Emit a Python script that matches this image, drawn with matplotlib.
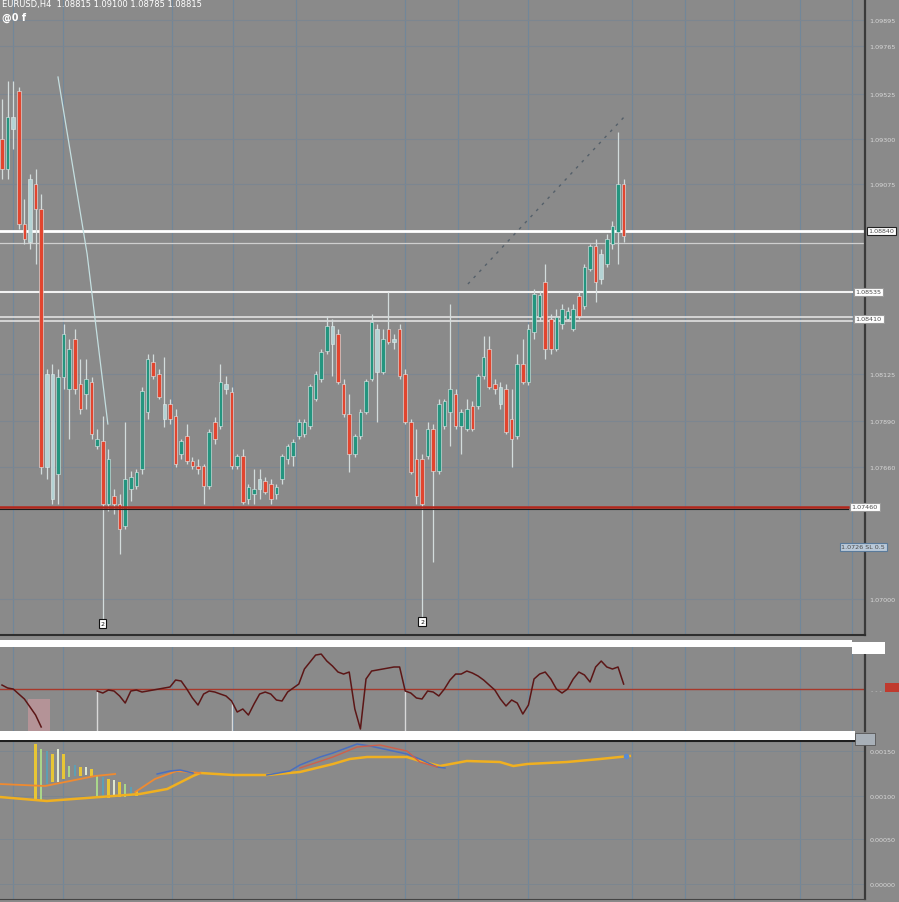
import numpy as np
import matplotlib.pyplot as plt
from matplotlib.patches import Rectangle
import matplotlib.transforms as mtransforms

nan = np.nan

# ---- price candles (H4) ----
opens = [1.0930, 1.0915, 1.0941, 1.0954, 1.08875, 1.08785, 1.09075, 1.0895, 1.0766, 1.08125,
         1.07625, 1.0811, 1.0805, 1.0830, 1.08075, 1.08025, 1.08085, 1.07765, 1.0779, 1.07475,
         1.07515, 1.07475, 1.07365, 1.0755, 1.07565, 1.0765, 1.07935, 1.08185, 1.08125, 1.0790,
         1.07975, 1.07915, 1.07725, 1.07815, 1.0769, 1.07665, 1.07665, 1.07565, 1.07885, 1.07865,
         1.08075, 1.08035, 1.07665, 1.07715, 1.0750, 1.07525, 1.0755, 1.0759, 1.07575, 1.07525,
         1.0760, 1.0770, 1.07715, 1.07815, 1.07825, 1.07865, 1.0800, 1.0810, 1.0824, 1.08365,
         1.08325, 1.08075, 1.07925, 1.07725, 1.07815, 1.07935, 1.0810, 1.0835, 1.08135, 1.0835,
         1.08285, 1.0835, 1.08125, 1.07885, 1.0770, 1.0770, 1.07715, 1.0785, 1.0764, 1.07865,
         1.07935, 1.08025, 1.07865, 1.0785, 1.07965, 1.07965, 1.08115, 1.0825, 1.08075, 1.07975,
         1.0805, 1.0790, 1.07815, 1.08175, 1.08085, 1.08335, 1.0841, 1.08585, 1.0840, 1.0825,
         1.08375, 1.0840, 1.0835, 1.08515, 1.08465, 1.0865, 1.08765, 1.0860, 1.08675, 1.08775,
         1.08835, 1.09075]
highs = [1.0950, 1.0959, 1.0959, 1.0956, 1.0900, 1.09125, 1.0915, 1.09025, 1.0815, 1.08175,
         1.0815, 1.08375, 1.0830, 1.0835, 1.0820, 1.0820, 1.0811, 1.0785, 1.07915, 1.0775,
         1.0755, 1.07525, 1.07885, 1.0764, 1.0765, 1.0806, 1.08225, 1.08225, 1.0815, 1.0821,
         1.0800, 1.0795, 1.0780, 1.07875, 1.0771, 1.0770, 1.07675, 1.0785, 1.0791, 1.08175,
         1.08115, 1.0806, 1.07725, 1.0775, 1.07575, 1.0765, 1.0765, 1.0761, 1.0760, 1.07575,
         1.07725, 1.07775, 1.0780, 1.0790, 1.0790, 1.08075, 1.0814, 1.0825, 1.08415, 1.0840,
         1.0835, 1.0810, 1.08025, 1.07825, 1.0795, 1.0810, 1.08425, 1.08375, 1.0835, 1.08535,
         1.08325, 1.08375, 1.0815, 1.0790, 1.0785, 1.07725, 1.07885, 1.07875, 1.0800, 1.0800,
         1.08475, 1.0805, 1.0795, 1.0800, 1.0799, 1.08125, 1.08315, 1.08315, 1.0810, 1.08085,
         1.08075, 1.0805, 1.08225, 1.0830, 1.08375, 1.0855, 1.0854, 1.08675, 1.08425, 1.0845,
         1.08475, 1.0846, 1.08475, 1.08535, 1.08675, 1.08775, 1.0880, 1.0875, 1.08825, 1.0889,
         1.09335, 1.0910]
lows = [1.0910, 1.0910, 1.0925, 1.0885, 1.08775, 1.0875, 1.08675, 1.07625, 1.0760, 1.07475,
        1.07475, 1.0805, 1.0780, 1.08025, 1.07925, 1.0795, 1.0780, 1.0775, 1.0690, 1.0744,
        1.07425, 1.07225, 1.0735, 1.0749, 1.0755, 1.07625, 1.0790, 1.0810, 1.0800, 1.0786,
        1.07875, 1.0766, 1.0770, 1.07675, 1.0765, 1.07625, 1.07475, 1.0755, 1.07775, 1.0785,
        1.08025, 1.0765, 1.0765, 1.07475, 1.07475, 1.07475, 1.0750, 1.07525, 1.07475, 1.0750,
        1.07575, 1.07675, 1.07665, 1.0780, 1.0781, 1.0785, 1.0799, 1.08085, 1.08225, 1.08115,
        1.08075, 1.0791, 1.07635, 1.0771, 1.0780, 1.07925, 1.0809, 1.07885, 1.08125, 1.08275,
        1.0825, 1.0810, 1.07875, 1.07625, 1.07475, 1.0691, 1.0770, 1.07185, 1.07625, 1.0785,
        1.07765, 1.0785, 1.07725, 1.0784, 1.0784, 1.0795, 1.0810, 1.0805, 1.08025, 1.0795,
        1.07825, 1.0766, 1.0780, 1.08075, 1.0807, 1.0830, 1.0839, 1.0820, 1.08225, 1.0824,
        1.0835, 1.0839, 1.0834, 1.0840, 1.0845, 1.0864, 1.08485, 1.08575, 1.0866, 1.0875,
        1.08675, 1.08785]
closes = [1.0915, 1.0941, 1.0935, 1.08875, 1.0880, 1.0910, 1.0895, 1.0766, 1.08125, 1.0750,
          1.0811, 1.08325, 1.0825, 1.0805, 1.0795, 1.0810, 1.07825, 1.0780, 1.07475, 1.0770,
          1.07475, 1.0735, 1.0760, 1.0761, 1.07635, 1.0804, 1.0820, 1.08115, 1.0801, 1.07975,
          1.0790, 1.07675, 1.0779, 1.0769, 1.07665, 1.0765, 1.07565, 1.07835, 1.0780, 1.08085,
          1.0805, 1.07665, 1.07715, 1.07485, 1.0756, 1.0755, 1.0760, 1.07535, 1.0750, 1.0756,
          1.07715, 1.07765, 1.07785, 1.07885, 1.07885, 1.08065, 1.08125, 1.08235, 1.08365, 1.08275,
          1.08085, 1.07925, 1.07725, 1.07815, 1.07935, 1.0809, 1.08385, 1.08135, 1.0830, 1.08285,
          1.0830, 1.08115, 1.07885, 1.07635, 1.07515, 1.07475, 1.0785, 1.0764, 1.07975, 1.0799,
          1.0805, 1.07865, 1.07935, 1.0795, 1.0785, 1.08115, 1.0821, 1.0806, 1.0805, 1.0806,
          1.07835, 1.0780, 1.08175, 1.08085, 1.0835, 1.08525, 1.0852, 1.0825, 1.0825, 1.0841,
          1.0845, 1.0844, 1.0845, 1.08415, 1.0866, 1.08765, 1.08585, 1.08725, 1.0880, 1.08865,
          1.09075, 1.08815]
pale = [2, 5, 8, 9, 29, 40, 46, 59, 67, 70, 89, 107]

price_ticks = [1.09895, 1.09765, 1.09525, 1.0930, 1.09075, 1.08125, 1.0789, 1.0766, 1.0700]
time_grid = [2.0, 10.9, 30.4, 41.2, 52.5, 72.0, 81.4, 93.9, 112.5, 122.0, 130.7, 142.5, 151.8]

# horizontal levels drawn on the price panel
res_main = 1.0884
res_faint = 1.0878
res_mid = 1.08535
res_pair = [1.0841, 1.0839]
support = 1.0746
stop_level = 1.0726

# trend lines (candle index, price)
fall_x = [10, 15.2, 18.9]
fall_y = [1.0961, 1.08725, 1.07875]
rise_x = [83.2, 111.25]
rise_y = [1.08575, 1.09415]
spike_marks = [18, 75]

# ---- oscillator panel ----
rsi = [54.7, 51.2, 50.0, 44.0, 38.1, 28.6, 19.0, 4.8,
       nan, nan, nan, nan, nan, nan, nan, nan, nan,
       47.6, 45.2, 48.8, 47.6, 41.7, 33.3, 47.6, 48.8, 46.4, 47.6,
       48.8, 50.0, 51.2, 52.4, 60.7, 59.5, 50.0, 39.3, 30.9, 44.0,
       47.6, 46.4, 44.0, 41.7, 35.7, 22.6, 26.2, 19.0, 32.1, 44.0,
       46.4, 44.0, 36.9, 35.7, 46.4, 51.2, 55.9, 73.8, 82.1, 90.4,
       91.6, 83.3, 77.4, 70.2, 67.8, 70.2, 26.2, 2.4, 61.9, 71.4,
       72.6, 73.8, 75.0, 76.2, 76.2, 47.6, 45.2, 39.3, 38.1, 47.6,
       46.4, 41.7, 50.0, 60.7, 67.8, 67.8, 71.4, 69.0, 65.5, 60.7,
       54.7, 48.8, 38.1, 29.8, 36.9, 33.3, 20.2, 30.9, 61.9, 67.8,
       70.2, 61.9, 50.0, 45.2, 50.0, 61.9, 70.2, 66.7, 58.3, 76.2,
       83.3, 76.2, 73.8, 76.2, 55.9]
rsi_spikes = [17, 41, 72]

# ---- lower indicator panel ----
slow_x = [-0.4, 8.0, 17.5, 24.6, 29.5, 34.1, 35.4, 41.3, 47.3, 53.2, 59.1, 62.1,
          65.2, 72.3, 74.6, 78.2, 83.0, 88.9, 91.3, 93.8, 100.9, 106.8, 112.1]
slow_y = [102, 98, 102, 105, 110, 123, 126, 124, 124, 127, 135, 140,
          142, 142, 138, 133, 138, 137, 133, 135, 137, 140, 143]
mid_x = [-0.4, 7.7, 16.6, 20.2, 22.0, 23.8, 27.3, 31.2, 35.4]
mid_y = [115, 113, 123, 125, nan, 107, 120, 128, 126]
fast_x = [27.7, 30.0, 31.8, 34.1, 40.0, 47.3, 51.4, 53.2, 56.8, 59.1, 63.4, 65.7, 72.3, 74.6, 77.7, 79.1]
fast_y = [125, 128, 129, 126, nan, 124, 128, 134, 142, 146, 155, 153, 145, 140, 132, 131]
red_x = [53.2, 59.1, 63.4, 67.5, 72.3, 74.6, 77.7]
red_y = [131, 142, 152, 154, 148, 137, 132]
hist_idx = list(range(6, 25))
hist_top = [155, 150, 148, 145, 150, 145, 133, 134, 132, 132, 130, 123, 122, 120, 119, 117, 115, 112, 108]
hist_bot = [100, 98, 115, 117, 117, 120, 122, 123, 123, 124, 123, 103, 102, 101, 102, 102, 102, 103, 103]
low_ticks = [148, 103, 60, 15]
low_labels = ['0.00150', '0.00100', '0.00050', '0.00000']

BG = '#8a8a8a'
GRID = '#71879a'
W, H = 899, 903

fig = plt.figure(figsize=(W / 100, H / 100), dpi=100, facecolor=BG)


def frame(top, bottom):
    a = fig.add_axes([0, 1 - bottom / H, 865 / W, (bottom - top) / H], facecolor=BG)
    for s in ('left', 'top', 'bottom'):
        a.spines[s].set_visible(False)
    a.spines['right'].set_color('#3a3a3a')
    a.spines['right'].set_linewidth(1.6)
    a.set_xlim(-0.357, 154.1)
    a.set_xticks(time_grid)
    a.tick_params(axis='x', length=0, labelbottom=False)
    a.grid(axis='x', color=GRID, lw=0.8)
    a.yaxis.tick_right()
    a.tick_params(axis='y', length=0, labelsize=4.6, labelcolor='#d8d8d8', pad=3)
    a.set_axisbelow(True)
    return a


ax = frame(0, 636)
ax.set_ylim(1.0682, 1.1000)
ax.set_yticks(price_ticks)
ax.set_yticklabels([f'{v:.5f}' for v in price_ticks])
ax.grid(axis='y', color='#7c8690', lw=0.8)
ax.spines['bottom'].set_visible(True)
ax.spines['bottom'].set_color('#2e2e2e')
ax.spines['bottom'].set_linewidth(1.5)

for i in range(len(opens)):
    o, h, l, c = opens[i], highs[i], lows[i], closes[i]
    if i in pale:
        col = '#b4d3d4'
    elif c >= o:
        col = '#24957f'
    else:
        col = '#e2452f'
    ax.vlines(i, l, h, color='#d3dcdc', lw=0.9, zorder=3)
    ax.bar(i, max(abs(c - o), 0.00005), bottom=min(o, c), width=0.62,
           color=col, edgecolor='#e4eded', lw=0.4, zorder=4)

ax.axhline(res_main, color='white', lw=2.0, zorder=2)
ax.axhline(res_faint, color='#cfcfcf', lw=0.9, zorder=2)
ax.axhline(res_mid, xmax=852 / 865, color='#f2f2f2', lw=1.5, zorder=2)
for lv in res_pair:
    ax.axhline(lv, xmax=852 / 865, color='#e8e8e8', lw=1.1, zorder=2)
ax.axhline(support, xmax=848 / 865, color='#b3261b', lw=1.8, zorder=5)
ax.axhline(support - 0.0001, xmax=848 / 865, color='#1c1c1c', lw=0.8, zorder=5)

ax.plot(fall_x, fall_y, color='#c4dfe0', lw=0.9, zorder=5)
ax.plot(rise_x, rise_y, color='#55606a', lw=1.0, ls=(0, (2, 4)), zorder=5)

for i in spike_marks:
    ax.text(i, lows[i] - 0.0001, '2', ha='center', va='top', fontsize=4.5, color='#111111', zorder=6,
            bbox=dict(boxstyle='square,pad=0.25', fc='white', ec='#111111', lw=0.8))

tr = mtransforms.blended_transform_factory(ax.transAxes, ax.transData)
box_specs = [(res_main, 1.0, 'white', '#222222', f'{res_main:.5f}'),
             (res_mid, 852 / 865, 'white', '#9a9a9a', f'{res_mid:.5f}'),
             (res_pair[0] - 0.0001, 852 / 865, 'white', '#9a9a9a', f'{res_pair[0]:.5f}'),
             (support, 848 / 865, 'white', '#9a9a9a', f'{support:.5f}'),
             (stop_level, 838 / 865, '#b9c9d9', '#5a7a9a', f'{stop_level:.4f} SL 0.5')]
for y, x0, fc, ec, label in box_specs:
    ax.text(x0 + 0.004, y, label, transform=tr, ha='left', va='center', fontsize=4.6,
            color='#4a4a4a', zorder=7,
            bbox=dict(boxstyle='square,pad=0.3', fc=fc, ec=ec, lw=0.8))

fig.text(0.002, 1 - 5 / H, 'EURUSD,H4  1.08815 1.09100 1.08785 1.08815', fontsize=6,
         color='white', va='center', ha='left')
fig.text(0.002, 1 - 18 / H, '@0 f', fontsize=7, color='white', va='center', ha='left',
         fontweight='bold')

# oscillator
ax2 = frame(648, 732)
ax2.set_ylim(0, 100)
ax2.set_yticks([])
ax2.axhline(50, color='#a8382a', lw=1.0)
ax2.axvspan(4.6, 8.6, ymin=0, ymax=0.38, color='#e8a0a8', alpha=0.45, lw=0)
for i in rsi_spikes:
    ax2.vlines(i, 0, rsi[i], color='#d8d8d8', lw=1.0)
ax2.plot(np.arange(len(rsi)), rsi, color='#5c1616', lw=1.1)
tr2 = mtransforms.blended_transform_factory(ax2.transAxes, ax2.transData)
ax2.text(1.0 + 6 / 865, 48, '- - -', transform=tr2, ha='left', va='center', fontsize=4.5, color='#c8c8c8')
ax2.add_patch(Rectangle((1.0 + 20 / 865, 47), 14 / 865, 10, transform=tr2, fc='#c03a2e',
                        ec='none', clip_on=False))

# lower indicator
ax3 = frame(742, 900)
ax3.set_ylim(0, 158)
ax3.set_yticks(low_ticks)
ax3.set_yticklabels(low_labels)
ax3.grid(axis='y', color='#7c8690', lw=0.7)
ax3.spines['top'].set_visible(True)
ax3.spines['top'].set_color('#1e1e1e')
ax3.spines['top'].set_linewidth(1.5)
ax3.spines['bottom'].set_visible(True)
ax3.spines['bottom'].set_color('#444444')
bar_cols = ['#e8c635', '#a9d68a', '#5d9fb4', '#e8c635', '#dfe8d0']
for k, i in enumerate(hist_idx):
    ax3.bar(i, hist_top[k] - hist_bot[k], bottom=hist_bot[k], width=0.45,
            color=bar_cols[k % len(bar_cols)], lw=0, zorder=3)
ax3.plot(slow_x, slow_y, color='#f0b020', lw=1.8, zorder=4)
ax3.plot(mid_x, mid_y, color='#f08a30', lw=1.3, zorder=4)
ax3.plot(fast_x, fast_y, color='#4a6fc0', lw=1.1, zorder=5)
ax3.plot(red_x, red_y, color='#d0604a', lw=1.0, zorder=5)
ax3.plot([111.5], [143], marker='o', ms=3, color='#5a8ad0', zorder=6)

# separator bands
fig.patches.append(Rectangle((0, 1 - 648 / H), 852 / W, 7 / H, transform=fig.transFigure,
                             fc='white', ec='none', zorder=10))
fig.patches.append(Rectangle((852 / W, 1 - 655 / H), 33 / W, 12 / H, transform=fig.transFigure,
                             fc='white', ec='none', zorder=10))
fig.patches.append(Rectangle((0, 1 - 741 / H), 855 / W, 9 / H, transform=fig.transFigure,
                             fc='white', ec='none', zorder=10))
fig.patches.append(Rectangle((855 / W, 1 - 746 / H), 20 / W, 12 / H, transform=fig.transFigure,
                             fc='#a8b0b8', ec='#555555', lw=0.6, zorder=10))

fig.savefig('out.png', dpi=100, facecolor=BG)
